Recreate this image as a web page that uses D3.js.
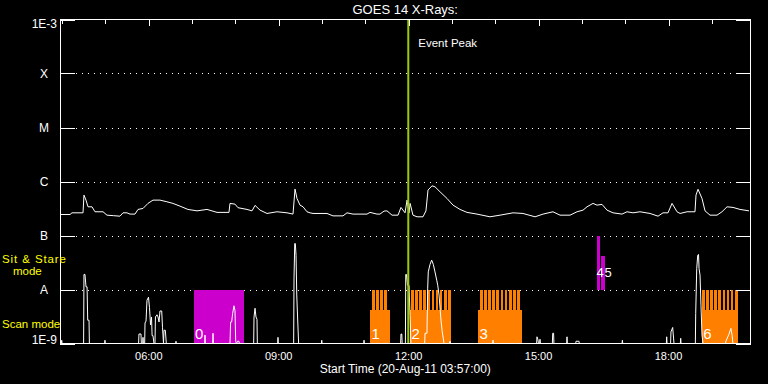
<!DOCTYPE html>
<html><head><meta charset="utf-8">
<script src="https://cdn.jsdelivr.net/npm/d3@7"></script>
<style>html,body{margin:0;padding:0;background:#000;}svg{display:block;}</style>
</head><body>
<script>
// ---- data ----
const startTimeLabel = "Start Time (20-Aug-11 03:57:00)";
const titleText = "GOES 14 X-Rays:";
const levelLabels = ["1E-3", "X", "M", "C", "B", "A", "1E-9"];
const levelValues = [1e-3, 1e-4, 1e-5, 1e-6, 1e-7, 1e-8, 1e-9];
const durationMinutes = 956.6;
const eventPeakMinute = 482.5;

// [minutes after 03:57 UT, flux W/m^2]  1-8 A channel
const longWave = [[0,2.45e-7],[13.9,2.45e-7],[16.6,2.63e-7],[31.9,2.63e-7],[33.2,5.6e-7],[36.0,4.52e-7],[38.8,3.4e-7],[44.3,3.4e-7],[48.5,2.75e-7],[59.6,2.75e-7],[65.1,2.38e-7],[74,2.33e-7],[83.1,2.28e-7],[87.3,2.63e-7],[92.8,2.63e-7],[97.0,2.49e-7],[103.9,2.49e-7],[108.1,3.04e-7],[115.0,3.17e-7],[121.9,3.93e-7],[128.8,4.52e-7],[138.5,4.52e-7],[148.2,4.21e-7],[156.5,3.93e-7],[166.2,3.5e-7],[177.3,3.04e-7],[189.8,2.86e-7],[203.7,3.04e-7],[217.5,2.68e-7],[234.1,2.68e-7],[235.5,3.93e-7],[242.4,3.81e-7],[246.6,3.27e-7],[259.1,3.04e-7],[266.0,2.86e-7],[270.2,3.61e-7],[277.1,2.95e-7],[286.8,2.56e-7],[300.6,2.75e-7],[314.5,2.63e-7],[322.8,2.49e-7],[325.6,7.23e-7],[328.3,4.86e-7],[332.5,3.65e-7],[336.7,3.4e-7],[342.2,2.75e-7],[346.4,2.63e-7],[350.5,2.56e-7],[369.9,2.56e-7],[378.2,2.31e-7],[392.1,2.31e-7],[397.6,2.63e-7],[405.9,2.49e-7],[425.3,2.49e-7],[429.5,2.68e-7],[439.2,2.49e-7],[443.3,2.49e-7],[448.9,2.83e-7],[453.0,2.86e-7],[460.0,2.38e-7],[468.3,2.38e-7],[472.4,3.31e-7],[478.0,2.63e-7],[480.8,4.52e-7],[483.5,2.6e-7],[485.0,3.93e-7],[489.0,2.38e-7],[494.6,2.22e-7],[502.9,2.22e-7],[507.0,2.86e-7],[509.8,6.93e-7],[515.4,8.32e-7],[519.5,7.98e-7],[526.5,6.44e-7],[536.1,4.86e-7],[544.5,3.65e-7],[554.2,3.04e-7],[563.8,2.68e-7],[577.7,2.49e-7],[595.7,2.22e-7],[609.6,2.38e-7],[627.6,2.63e-7],[641.4,2.56e-7],[658.1,2.22e-7],[669.2,2.49e-7],[683.0,2.75e-7],[692.7,2.38e-7],[706.6,2.38e-7],[716.3,2.75e-7],[724.6,2.95e-7],[730.1,3.4e-7],[738.4,3.93e-7],[744.0,3.65e-7],[750.9,3.77e-7],[757.8,2.95e-7],[766.1,2.63e-7],[778.6,2.49e-7],[785.5,2.75e-7],[793.8,2.63e-7],[803.5,2.75e-7],[817.4,2.56e-7],[828.5,2.28e-7],[835.4,2.63e-7],[842.3,2.63e-7],[847.9,3.93e-7],[854.8,2.75e-7],[859.0,2.56e-7],[868.7,2.75e-7],[879.7,2.75e-7],[881.1,5.6e-7],[883.9,7.18e-7],[889.4,4.86e-7],[893.6,2.86e-7],[900.5,2.38e-7],[910.2,2.38e-7],[917.1,2.75e-7],[924.1,3.4e-7],[932.4,3.31e-7],[942.1,3.04e-7],[954.5,2.86e-7]];

// 0.5-4 A channel (values at or below 1E-9 sit on the floor)
const shortWave = [[0,1e-9],[1.9,1e-9],[2.4,1.15e-9],[2.9,1e-9],
[32.7,1e-9],[33.2,1.9e-8],[34.6,1.9e-8],[36.0,1.12e-8],[37.5,1.12e-8],[38.4,2.7e-9],[40.2,2.7e-9],[40.7,1e-9],
[61.8,1e-9],[62.3,1.15e-9],[62.8,1e-9],
[108.9,1e-9],[109.4,1.5e-9],[112.2,1.5e-9],[112.7,1e-9],[114.6,1e-9],[115.0,1.3e-9],[115.5,1e-9],
[117.3,1e-9],[117.8,2.4e-9],[119.2,2.6e-9],[120.5,6.3e-9],[122.6,7.2e-9],[124.0,4.6e-9],[125.4,2.2e-9],[126.8,3.1e-9],[127.6,1.4e-9],[128.8,1.4e-9],[130.2,1e-9],
[131.6,1e-9],[132.2,3.1e-9],[134.4,3.4e-9],[135.8,3.1e-9],[137.2,2.5e-9],[138.5,4.0e-9],[140.9,4.0e-9],[142.0,2.0e-9],[143.4,1e-9],[144.1,1.76e-9],[145.9,1.76e-9],[147.3,1e-9],
[160.2,1e-9],[160.7,1.1e-9],[161.2,1e-9],
[200.4,1e-9],[200.9,1.43e-9],[201.4,1e-9],
[211.5,1e-9],[212.0,1.55e-9],[212.5,1e-9],
[235.5,1e-9],[236.4,2.5e-9],[237.8,2.5e-9],[239.2,3.6e-9],[241.0,5.0e-9],[242.4,4.1e-9],[243.4,1.1e-9],[244.5,1e-9],[246,1.1e-9],[248,1.1e-9],[248.5,1e-9],
[268.3,1e-9],[268.8,3.1e-9],[270.2,4.5e-9],[271.5,3.1e-9],[272.9,2.8e-9],[273.4,1e-9],
[301.5,1e-9],[302.0,1.3e-9],[302.5,1e-9],
[323.7,1e-9],[324.2,1.64e-8],[325.2,7.1e-8],[326.0,7.1e-8],[327.0,4.3e-8],[328.0,7.9e-9],[329.4,2.5e-9],[330.6,1e-9],
[362.1,1e-9],[362.6,1.15e-9],[363.1,1e-9],
[420.7,1e-9],[421.2,1.15e-9],[421.7,1e-9],
[471.9,1e-9],[472.4,1.5e-9],[473.5,1.5e-9],[474,1e-9],
[478.5,1e-9],[479.0,1.9e-8],[480.0,1.9e-8],[481.4,1.2e-8],[483.5,1.2e-8],[484.9,3.3e-9],[486.2,1e-9],
[505.2,1e-9],[505.7,1.55e-9],[508.4,1.55e-9],[509.4,1.06e-8],[510.2,2.12e-8],[512.6,2.91e-8],[514.9,3.5e-8],[517.2,2.91e-8],[519.5,2.12e-8],[521.9,1.49e-8],[523.3,1.2e-8],[525.1,7.9e-9],[527.8,2.7e-9],[529.6,1.64e-9],[532.0,1e-9],
[539.8,1e-9],[540.3,1.1e-9],[540.8,1e-9],
[599.4,1e-9],[599.9,1.15e-9],[600.4,1e-9],
[660.3,1e-9],[660.8,1.33e-9],[662.0,1.2e-9],[662.9,1e-9],[664.5,1e-9],[665.0,1.2e-9],[665.5,1e-9],
[682.1,1e-9],[682.6,1.55e-9],[683.8,1.55e-9],[684.3,1e-9],
[701.9,1e-9],[702.4,1.33e-9],[702.9,1e-9],
[714.4,1e-9],[714.9,1.1e-9],[719.0,1.1e-9],[719.5,1e-9],
[778.6,1e-9],[779.1,1.15e-9],[779.6,1e-9],
[840.0,1e-9],[840.5,1.33e-9],[841,1e-9],
[845.9,1e-9],[846.4,1.64e-9],[848.8,1.98e-9],[850.6,1e-9],
[859.4,1e-9],[859.9,1.25e-9],[860.4,1e-9],
[880.2,1e-9],[880.7,3.6e-9],[882.1,2.45e-8],[883.5,4.3e-8],[884.6,4.46e-8],[885.3,2.45e-8],[886.7,1.84e-8],[888.0,5.1e-9],[889.4,1.43e-9],[890.8,1e-9],
[922.0,1e-9],[922.5,1.1e-9],[926.6,1.47e-9],[929.4,1.9e-9],[931.2,1.4e-9],[932.2,1e-9],[955,1e-9]];

// sit & stare pointings (magenta)
const stareLabels = ["0", "4", "5"];
const stareStart = [185.6, 744.0, 749.5];
const stareEnd = [254.9, 748.1, 755.0];
const stareLow = [1e-9, 1e-8, 1e-8];
const stareHigh = [1e-8, 1e-7, 4.15e-8];

// raster scans (orange)
const scanLabels = ["1", "2", "3", "6"];
const scanStart = [429.5, 484.9, 579.1, 889.0];
const scanEnd = [457.2, 541.7, 640.1, 938.9];
const scanFirstStep = [432.2, 486.2, 581.9, 889.4];
const scanSteps = [4, 10, 10, 9];
const stepCadence = 5.7;   // minutes between raster steps
const stepDuration = 3.7;  // minutes per raster step
const scanBase = 4.14e-9;
const scanTop = 1e-8;

// ---- drawing ----
const W = 768, H = 384;
const L = 60, R = 750.5, T = 19.5, B = 343.5;
const START = Date.UTC(2011, 7, 20, 3, 57, 0);
const tm = m => new Date(START + m * 60000);

const x = d3.scaleUtc().domain([tm(0), tm(durationMinutes)]).range([L, R]);
const y = d3.scaleLog().domain([1e-9, 1e-3]).range([B, T]).clamp(true);

const svg = d3.select("body").append("svg").attr("width", W).attr("height", H)
  .style("font-family", "'Liberation Sans', Arial, sans-serif");
svg.append("rect").attr("width", W).attr("height", H).attr("fill", "#000");

const defs = svg.append("defs");
defs.append("clipPath").attr("id", "plot").append("rect")
  .attr("x", L).attr("y", T).attr("width", R - L).attr("height", B - T);

// dotted grid lines at flare classes
const gridVals = levelValues.slice(1, -1);
svg.append("g").selectAll("line").data(gridVals).join("line")
  .attr("x1", L + 16).attr("x2", R - 15)
  .attr("y1", d => Math.round(y(d)) + 0.5).attr("y2", d => Math.round(y(d)) + 0.5)
  .attr("stroke", "#fff").attr("stroke-width", 1).attr("stroke-dasharray", "1,5");

// sit & stare blocks
const stare = stareLabels.map((l, i) => ({label: l, s: stareStart[i], e: stareEnd[i], lo: stareLow[i], hi: stareHigh[i]}));
svg.append("g").selectAll("rect").data(stare).join("rect")
  .attr("x", d => x(tm(d.s))).attr("width", d => x(tm(d.e)) - x(tm(d.s)))
  .attr("y", d => y(d.hi)).attr("height", d => y(d.lo) - y(d.hi))
  .attr("fill", "#cc00cc").attr("shape-rendering", "crispEdges");

// scan blocks
const scans = scanLabels.map((l, i) => ({label: l, s: scanStart[i], e: scanEnd[i], f: scanFirstStep[i], n: scanSteps[i]}));
const gs = svg.append("g").attr("fill", "#ff8000").attr("shape-rendering", "crispEdges");
gs.selectAll("rect.base").data(scans).join("rect").attr("class", "base")
  .attr("x", d => x(tm(d.s))).attr("width", d => x(tm(d.e)) - x(tm(d.s)))
  .attr("y", y(scanBase)).attr("height", y(1e-9) - y(scanBase));
const teeth = scans.flatMap(d => d3.range(d.n).map(k => d.f + k * stepCadence));
gs.selectAll("rect.tooth").data(teeth).join("rect").attr("class", "tooth")
  .attr("x", d => x(tm(d))).attr("width", d => x(tm(d + stepDuration)) - x(tm(d)))
  .attr("y", y(scanTop)).attr("height", y(scanBase) - y(scanTop) + 1);

// curves
const line = d3.line().x(d => x(tm(d[0]))).y(d => y(d[1]));
const gc = svg.append("g").attr("clip-path", "url(#plot)");
gc.append("path").datum(longWave).attr("d", line).attr("fill", "none").attr("stroke", "#fff").attr("stroke-width", 1);
gc.append("path").datum(shortWave).attr("d", line).attr("fill", "none").attr("stroke", "#fff").attr("stroke-width", 1);

// event peak line
const xe = x(tm(eventPeakMinute));
svg.append("line").attr("x1", xe).attr("x2", xe).attr("y1", T).attr("y2", B)
  .attr("stroke", "#99cc00").attr("stroke-width", 2);
svg.append("text").attr("x", xe + 10).attr("y", 47).attr("fill", "#fff")
  .attr("font-size", 11.5).text("Event Peak");

// block labels
svg.append("g").selectAll("text").data(stare).join("text")
  .attr("x", d => x(tm(d.s)) + (d.lo === 1e-9 ? 1 : (d.label === "5" ? 3.5 : -0.5)))
  .attr("y", d => d.lo === 1e-9 ? B - 4.5 : y(d.lo) - 12.5)
  .attr("fill", "#fff").attr("font-size", d => d.lo === 1e-9 ? 15 : 13).text(d => d.label);
svg.append("g").selectAll("text").data(scans).join("text")
  .attr("x", d => x(tm(d.s)) + 1.5).attr("y", B - 4.5)
  .attr("fill", "#fff").attr("font-size", 15).text(d => d.label);

// frame
svg.append("rect").attr("x", L + 0.5).attr("y", T).attr("width", R - L - 0.5).attr("height", B - T)
  .attr("fill", "none").attr("stroke", "#fff").attr("stroke-width", 1).attr("shape-rendering", "crispEdges");

// y ticks (left and right) at levels
const yt = svg.append("g").attr("stroke", "#fff").attr("shape-rendering", "crispEdges");
levelValues.forEach(v => {
  const yy = Math.round(y(v)) + 0.5;
  yt.append("line").attr("x1", L).attr("x2", L + 15).attr("y1", yy).attr("y2", yy);
  yt.append("line").attr("x1", R - 15).attr("x2", R).attr("y1", yy).attr("y2", yy);
});

// x ticks on top edge
const hours = x.ticks(d3.utcHour.every(1));
svg.append("g").selectAll("line").data(hours).join("line")
  .attr("x1", d => Math.round(x(d)) + 0.5).attr("x2", d => Math.round(x(d)) + 0.5)
  .attr("y1", T).attr("y2", d => T + (d.getUTCHours() % 3 === 0 ? 6 : 4))
  .attr("stroke", "#fff").attr("shape-rendering", "crispEdges");
const fmt = d3.utcFormat("%H:%M");
svg.append("g").selectAll("text").data(hours.filter(d => d.getUTCHours() % 3 === 0)).join("text")
  .attr("x", d => x(d)).attr("y", 359.5).attr("text-anchor", "middle")
  .attr("fill", "#fff").attr("font-size", 11).text(d => fmt(d));

// y level labels
svg.append("g").selectAll("text").data(levelLabels).join("text")
  .attr("x", (d, i) => (i === 0 || i === levelLabels.length - 1) ? 57 : 44)
  .attr("text-anchor", (d, i) => (i === 0 || i === levelLabels.length - 1) ? "end" : "middle")
  .attr("y", (d, i) => i === 0 ? y(levelValues[i]) + 8.5 : (i === levelLabels.length - 1 ? y(levelValues[i]) : y(levelValues[i]) + 4.5))
  .attr("fill", "#fff").attr("font-size", 12).text(d => d);

// mode labels
const modeG = svg.append("g").attr("fill", "#ffff00").attr("font-size", 11.5);
modeG.append("text").attr("x", 2).attr("y", 263).attr("textLength", 64).attr("lengthAdjust", "spacing").text("Sit & Stare");
modeG.append("text").attr("x", 13).attr("y", 275).text("mode");
modeG.append("text").attr("x", 2).attr("y", 327.5).text("Scan mode");

// titles
svg.append("text").attr("x", (L + R) / 2).attr("y", 14).attr("text-anchor", "middle")
  .attr("fill", "#fff").attr("font-size", 13).text(titleText);
svg.append("text").attr("x", (L + R) / 2).attr("y", 373).attr("text-anchor", "middle")
  .attr("fill", "#fff").attr("font-size", 12).text(startTimeLabel);
</script>
</body></html>
